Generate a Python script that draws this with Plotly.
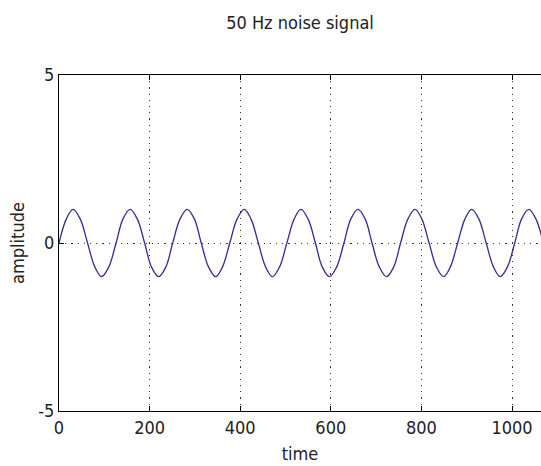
import plotly.graph_objects as go

# time samples (~eighth-period spacing)
time = [0, 16, 31, 47, 63, 79, 94, 110, 126, 141, 157, 173, 189, 204, 220, 236,
        251, 267, 283, 299, 314, 330, 346, 361, 377, 393, 409, 424, 440, 456, 471,
        487, 503, 519, 534, 550, 566, 581, 597, 613, 629, 644, 660, 676, 691, 707,
        723, 739, 754, 770, 786, 801, 817, 833, 849, 864, 880, 896, 911, 927, 943,
        959, 974, 990, 1006, 1021, 1037, 1053, 1069]
amplitude = [0, 0.71, 1, 0.71, 0, -0.71, -1, -0.71,
             0, 0.71, 1, 0.71, 0, -0.71, -1, -0.71,
             0, 0.71, 1, 0.71, 0, -0.71, -1, -0.71,
             0, 0.71, 1, 0.71, 0, -0.71, -1, -0.71,
             0, 0.71, 1, 0.71, 0, -0.71, -1, -0.71,
             0, 0.71, 1, 0.71, 0, -0.71, -1, -0.71,
             0, 0.71, 1, 0.71, 0, -0.71, -1, -0.71,
             0, 0.71, 1, 0.71, 0, -0.71, -1, -0.71,
             0, 0.71, 1, 0.71, 0]
x_ticks = [0, 200, 400, 600, 800, 1000]
y_ticks = [-5, 0, 5]

FONT = "Liberation Sans Narrow, DejaVu Sans Condensed, Arial Narrow, sans-serif"

fig = go.Figure()
fig.add_trace(go.Scatter(x=time, y=amplitude, mode="lines",
                         line=dict(color="#2e2e96", width=1.3, shape="spline", smoothing=1.0),
                         showlegend=False, hoverinfo="skip"))

fig.update_layout(
    width=541, height=466,
    margin=dict(l=59, r=0, t=75, b=55),
    paper_bgcolor="white", plot_bgcolor="white",
    font=dict(family=FONT, size=18, color="#222222"),
    title=dict(text="50 Hz noise signal", x=300/541, xanchor="center",
               y=1 - 23/466, yanchor="middle", yref="container",
               font=dict(family=FONT, size=18, color="#222222")),
)
fig.update_xaxes(range=[0, 1064], tickvals=x_ticks, ticktext=[str(v) for v in x_ticks],
                 showline=True, linecolor="black", linewidth=1, mirror="allticks",
                 ticks="inside", ticklen=5, tickcolor="black",
                 showgrid=True, gridcolor="#333333", griddash="1.2px,5px", gridwidth=1.2,
                 zeroline=False,
                 title=dict(text="time", standoff=10, font=dict(family=FONT, size=18)))
fig.update_yaxes(range=[-5, 5], tickvals=y_ticks, ticktext=[str(v) for v in y_ticks],
                 showline=True, linecolor="black", linewidth=1, mirror=False,
                 ticks="inside", ticklen=5, tickcolor="black",
                 showgrid=True, gridcolor="#333333", griddash="1.2px,5px", gridwidth=1.2,
                 zeroline=False,
                 title=dict(text="amplitude", standoff=8, font=dict(family=FONT, size=18)))

fig.write_html("out.html")
